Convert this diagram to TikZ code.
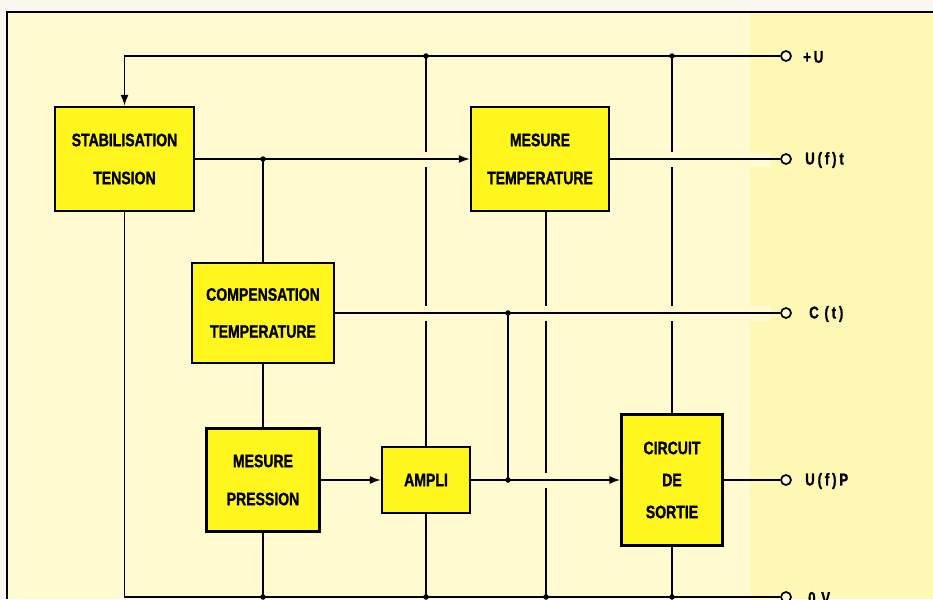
\documentclass[tikz,border=0pt]{standalone}
\usepackage{fontspec}
\setsansfont[FakeStretch=0.78,BoldFeatures={FakeBold=1.2}]{Liberation Sans}
\usetikzlibrary{arrows.meta,positioning}
\definecolor{paper}{HTML}{FFFAD0}
\definecolor{paperR}{HTML}{FFF8B4}
\definecolor{blockfill}{HTML}{FFF61E}
\definecolor{margin}{HTML}{FAF8EE}

\begin{document}
\begin{tikzpicture}[x=1pt,y=-1pt,>={Latex[length=11pt,width=8pt]},
 block/.style={draw,line width=2.3pt,fill=blockfill,inner sep=0pt,align=center,
  font=\sffamily\bfseries\fontsize{18}{38}\selectfont},
 wire/.style={line width=1.7pt},
 bridge/.style={preaction={draw=paper,line width=15pt,-,shorten <=9pt,shorten >=9pt}},
 term/.style={circle,draw,line width=1.7pt,fill=paper,inner sep=0pt,minimum size=10pt},
 termlabel/.style={anchor=west,inner sep=0pt,font=\sffamily\bfseries\fontsize{17}{18}\selectfont},
 dot/.style={circle,fill,inner sep=0pt,minimum size=5.5pt}]
\useasboundingbox (0,0) rectangle (933,599);
% paper and frame
\fill[margin] (0,0) rectangle (933,599);
\fill[paper] (7,12) rectangle (933,599);
\fill[paperR] (750,12) rectangle (933,599);
\draw[line width=2pt] (7,599) -- (7,12) -- (933,12);

% blocks
\node[block,minimum width=139pt,minimum height=104pt] (stab) at (124.5,159) {STABILISATION\\TENSION};
\node[block,minimum width=138pt,minimum height=104pt] (mtemp) at (540,159) {MESURE\\TEMPERATURE};
\node[block,minimum width=142pt,minimum height=100pt,
 font=\sffamily\bfseries\fontsize{18}{37}\selectfont] (comp) at (263,313) {COMPENSATION\\TEMPERATURE};
\node[block,minimum width=113pt,minimum height=103pt] (mpress) at (263,480) {MESURE\\PRESSION};
\node[block,minimum width=88pt,minimum height=66pt] (ampli) at (426,480) {AMPLI};
\node[block,minimum width=101pt,minimum height=131pt,
 font=\sffamily\bfseries\fontsize{18}{32}\selectfont] (sortie) at (672,480) {CIRCUIT\\DE\\SORTIE};

% terminals
\node[term] (tU) at (786,56) {};
\node[term] (tUft) at (786,159) {};
\node[term] (tCt) at (786,313) {};
\node[term] (tUfP) at (786,480) {};
\node[term] (t0V) at (786,597) {};
\node[termlabel] (lU) at (803,57) {+\,U};
\node[termlabel] (lUft) at (805,160) {U\,(\,f\,)\,t};
\node[termlabel] (lCt) at (809,314) {C\,\,(\,t\,)};
\node[termlabel] (lUfP) at (805,481) {U\,(\,f\,)\,P};
\node[termlabel] (l0V) at (808,598) {0\,\,V};

\coordinate (cornerU) at (stab.north |- tU);
\coordinate (jA) at (ampli.north |- tU);
\coordinate (jS) at (sortie.north |- tU);
\coordinate (mtout) at ([xshift=6pt]mtemp.south);
\coordinate (jC) at (comp.north |- stab.east);
\coordinate (jCt) at (508,313);
\coordinate (jAo) at (jCt |- ampli.east);
\coordinate (corner0) at (stab.south |- t0V);

% supply rail and long verticals
\draw[wire,->] (tU.west) -- (cornerU) -- (stab.north);
\draw[wire] (ampli.north) -- (jA);
\draw[wire] (sortie.north) -- (jS);
\draw[wire] (mtout) -- (mtout |- t0V);

% horizontal links (they cut the verticals)
\draw[wire,bridge,->] (stab.east) -- (mtemp.west);
\draw[wire,bridge] (mtemp.east) -- (tUft.west);
\draw[wire,bridge] (comp.east) -- (tCt.west);
\draw[wire,bridge,->] (ampli.east) -- (sortie.west);

% remaining links
\draw[wire] (jC) -- (comp.north);
\draw[wire] (jCt) -- (jAo);
\draw[wire] (comp.south) -- (mpress.north);
\draw[wire,->] (mpress.east) -- (ampli.west);
\draw[wire] (sortie.east) -- (tUfP.west);
\draw[wire] (stab.south) -- (corner0) -- (t0V.west);
\draw[wire] (mpress.south) -- (mpress.south |- t0V);
\draw[wire] (ampli.south) -- (ampli.south |- t0V);
\draw[wire] (sortie.south) -- (sortie.south |- t0V);

% junctions
\foreach \j in {jA,jS,jC,jCt,jAo}
 {\node[dot] at (\j) {};}
\foreach \b in {mpress,ampli,sortie}
 {\node[dot] at (\b.south |- t0V) {};}
\node[dot] at (mtout |- t0V) {};
\end{tikzpicture}
\end{document}
